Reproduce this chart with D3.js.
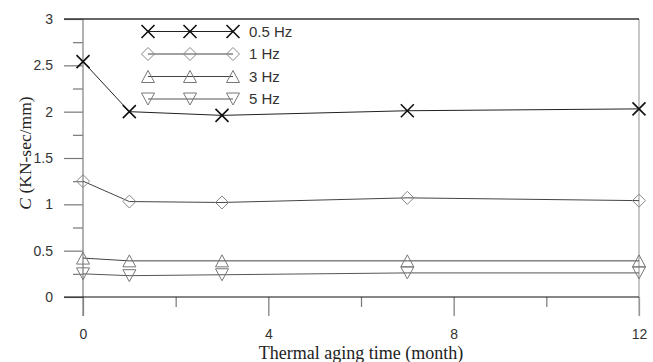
<!DOCTYPE html>
<html>
<head>
<meta charset="utf-8">
<script src="https://cdn.jsdelivr.net/npm/d3@7"></script>
<style>
  body { margin: 0; background: #fff; }
  svg { display: block; }
  .tick text { font-family: "Liberation Sans", Arial, sans-serif; font-size: 14px; fill: #333; }
</style>
</head>
<body>
<div id="chart"></div>
<script>
// thermal aging time (month)
const months = [0, 1, 3, 7, 12];
// damping coefficient C (KN-sec/mm) per loading frequency
const c05Hz = [2.54, 2.0, 1.96, 2.01, 2.03];
const c1Hz = [1.25, 1.03, 1.02, 1.07, 1.04];
const c3Hz = [0.42, 0.39, 0.39, 0.39, 0.39];
const c5Hz = [0.25, 0.23, 0.24, 0.26, 0.26];
const seriesNames = ["0.5 Hz", "1 Hz", "3 Hz", "5 Hz"];

const xMajorTicks = [0, 4, 8, 12];
const xMinorTicks = [2, 6, 10];
const yMajorTicks = [0, 0.5, 1, 1.5, 2, 2.5, 3];
const yMinorTicks = [0.25, 0.75, 1.25, 1.75, 2.25, 2.75];

const width = 653, height = 362;
let margin = {top: 19, right: 14, bottom: 65, left: 83};
let plotW = width - margin.left - margin.right,
    plotH = height - margin.top - margin.bottom;

let x = d3.scaleLinear().domain([0, 12]).range([margin.left, margin.left + plotW]);
let y = d3.scaleLinear().domain([0, 3]).range([margin.top + plotH, margin.top]);

let svg = d3.select("#chart").append("svg")
    .attr("width", width).attr("height", height);

// ticks
let yMajor = d3.axisLeft(y).tickValues(yMajorTicks).tickSize(19).tickPadding(11)
    .tickFormat(d3.format("~g"));
let yMinor = d3.axisLeft(y).tickValues(yMinorTicks).tickSize(10).tickFormat("");
let xMajor = d3.axisBottom(x).tickValues(xMajorTicks).tickSize(19).tickPadding(13)
    .tickFormat(d3.format("d"));
let xMinor = d3.axisBottom(x).tickValues(xMinorTicks).tickSize(10).tickFormat("");

function styleAxis(g) {
    g.select(".domain").remove();
    g.selectAll(".tick line").attr("stroke", "#777").attr("stroke-width", 1.2);
}

svg.append("g").attr("transform", `translate(${margin.left},0)`).call(yMajor).call(styleAxis);
svg.append("g").attr("transform", `translate(${margin.left},0)`).call(yMinor).call(styleAxis);
svg.append("g").attr("transform", `translate(0,${y(0)})`).call(xMajor).call(styleAxis);
svg.append("g").attr("transform", `translate(0,${y(0)})`).call(xMinor).call(styleAxis);

// frame lines
svg.append("line")
    .attr("x1", x(0)).attr("x2", x(0)).attr("y1", y(3)).attr("y2", y(0) + 19)
    .attr("stroke", "#888").attr("stroke-width", 1.3);
svg.append("line")
    .attr("x1", x(12)).attr("x2", x(12)).attr("y1", y(3)).attr("y2", y(0) + 19)
    .attr("stroke", "#aaa").attr("stroke-width", 1.3);
svg.append("line")
    .attr("x1", x(0) - 19).attr("x2", x(12)).attr("y1", y(3)).attr("y2", y(3))
    .attr("stroke", "#333").attr("stroke-width", 1.4);
svg.append("line")
    .attr("x1", x(0) - 19).attr("x2", x(12)).attr("y1", y(0)).attr("y2", y(0))
    .attr("stroke", "#111").attr("stroke-width", 1.2);

// marker shapes, centred on 0,0
function markerPath(kind) {
    const h = 6.5;
    if (kind === "x") return `M${-h},${-h}L${h},${h}M${-h},${h}L${h},${-h}`;
    if (kind === "diamond") return `M0,${-h}L${h},0L0,${h}L${-h},0Z`;
    if (kind === "up") return `M0,${-6}L${h},6L${-h},6Z`;
    return `M0,6L${h},-6L${-h},-6Z`;
}

let series = [
    {name: seriesNames[0], values: c05Hz, kind: "x", line: "#222", mark: "#111", mw: 1.6},
    {name: seriesNames[1], values: c1Hz, kind: "diamond", line: "#444", mark: "#888", mw: 1},
    {name: seriesNames[2], values: c3Hz, kind: "up", line: "#444", mark: "#777", mw: 1},
    {name: seriesNames[3], values: c5Hz, kind: "down", line: "#555", mark: "#777", mw: 1}
];

let line = d3.line().x(d => x(d[0])).y(d => y(d[1]));

for (let s of series) {
    let pts = months.map((m, i) => [m, s.values[i]]);
    svg.append("path").datum(pts)
        .attr("d", line)
        .attr("fill", "none").attr("stroke", s.line).attr("stroke-width", 1);
    svg.selectAll(null).data(pts).enter().append("path")
        .attr("transform", d => `translate(${x(d[0])},${y(d[1])})`)
        .attr("d", markerPath(s.kind))
        .attr("fill", "none").attr("stroke", s.mark).attr("stroke-width", s.mw);
}

// legend
let legend = svg.append("g");
let legendX = [148, 190, 233];
series.forEach(function(s, i) {
    let ly = 31.5 + i * 22.5;
    legend.append("line")
        .attr("x1", legendX[0]).attr("x2", legendX[2]).attr("y1", ly).attr("y2", ly)
        .attr("stroke", s.line).attr("stroke-width", 1);
    for (let lx of legendX) {
        legend.append("path")
            .attr("transform", `translate(${lx},${ly})`)
            .attr("d", markerPath(s.kind))
            .attr("fill", "none").attr("stroke", s.mark).attr("stroke-width", s.mw);
    }
    legend.append("text")
        .attr("x", 249).attr("y", ly + 5)
        .style("font-family", "'Liberation Sans', Arial, sans-serif")
        .style("font-size", "15px").attr("fill", "#333")
        .text(s.name);
});

// axis titles
svg.append("text")
    .attr("x", (x(0) + x(12)) / 2).attr("y", 359)
    .attr("text-anchor", "middle")
    .style("font-family", "'Liberation Serif', 'Times New Roman', serif")
    .style("font-size", "18px").attr("fill", "#222")
    .text("Thermal aging time (month)");

let yTitle = svg.append("text")
    .attr("transform", `translate(31,153) rotate(-90)`)
    .attr("text-anchor", "middle")
    .style("font-family", "'Liberation Serif', 'Times New Roman', serif")
    .style("font-size", "17.5px").attr("fill", "#222");
yTitle.append("tspan").style("font-style", "italic").text("C");
yTitle.append("tspan").text(" (KN-sec/mm)");
</script>
</body>
</html>
